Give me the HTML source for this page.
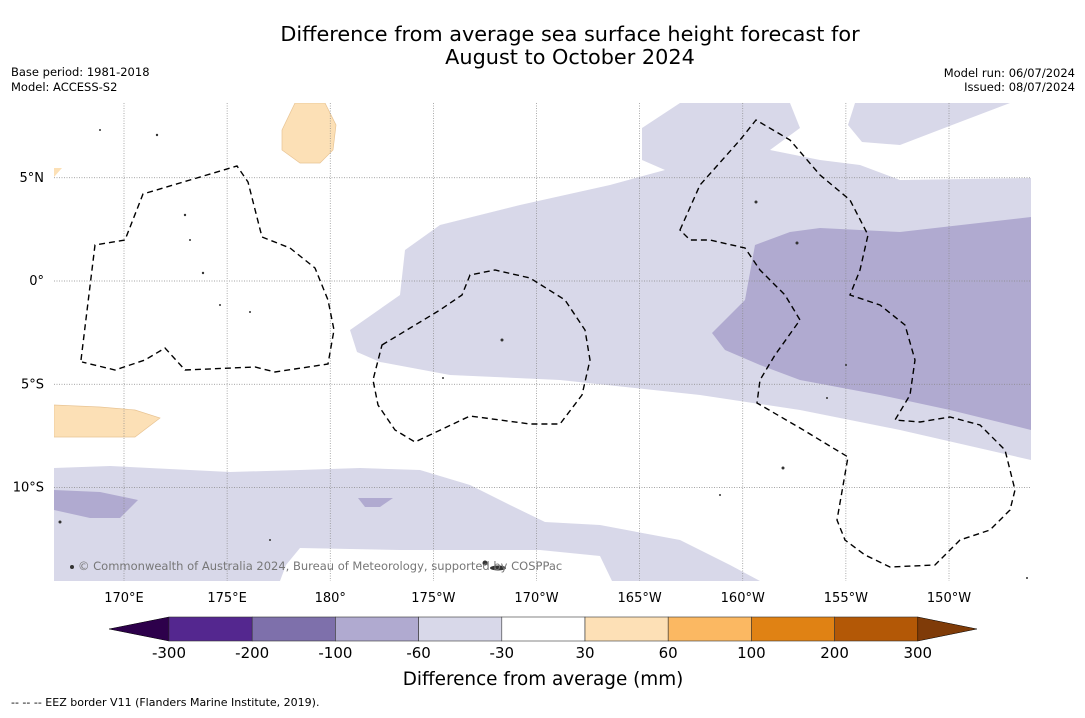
<!DOCTYPE html>
<html><head><meta charset="utf-8">
<style>
body{margin:0;background:#fff;width:1085px;height:713px;overflow:hidden;font-family:"Liberation Sans","DejaVu Sans",sans-serif;}
svg text{font-family:"DejaVu Sans","Liberation Sans",sans-serif;}
</style></head>
<body>
<svg width="1085" height="713">
<text x="570" y="41" text-anchor="middle" font-size="20.8">Difference from average sea surface height forecast for</text>
<text x="570" y="64" text-anchor="middle" font-size="20.8">August to October 2024</text>
<text x="11" y="76" font-size="11.5">Base period: 1981-2018</text>
<text x="11" y="91" font-size="11.5">Model: ACCESS-S2</text>
<text x="1075" y="77" font-size="11.5" text-anchor="end">Model run: 06/07/2024</text>
<text x="1075" y="91" font-size="11.5" text-anchor="end">Issued: 08/07/2024</text>

<g>
<clipPath id="mc"><rect x="54" y="103" width="977" height="478"/></clipPath>
<g clip-path="url(#mc)">
<path fill="#d8d8e9" d="M350,330 L400,295 L405,250 L440,225 L520,205 L610,185 L665,170 L642,160 L642,128 L680,103 L790,103 L800,128 L770,150 L820,160 L860,165 L900,180 L1031,178 L1031,460 L900,430 L800,410 L700,395 L560,380 L450,375 L380,362 L357,352 Z"/>
<path fill="#d8d8e9" d="M855,103 L1010,103 L960,122 L900,145 L862,142 L848,125 Z"/>
<path fill="#d8d8e9" d="M54,468 L110,466 L230,472 L300,470 L360,468 L420,470 L470,485 L510,505 L545,522 L600,525 L680,540 L730,565 L760,581 L612,581 L600,556 L540,550 L400,550 L300,548 L286,565 L280,581 L54,581 Z"/>
<path fill="#b0aad0" d="M712,333 L745,300 L755,245 L790,232 L820,228 L900,232 L1031,217 L1031,430 L950,410 L880,395 L800,380 L760,365 L725,350 Z"/>
<path fill="#b0aad0" d="M54,490 L100,492 L138,500 L120,518 L90,518 L54,510 Z"/>
<path fill="#b0aad0" d="M358,498 L393,498 L380,507 L365,507 Z"/>
<path fill="#fce0b6" stroke="#e8c494" stroke-width="0.7" d="M282,130 L295,103 L325,103 L336,125 L333,150 L320,163 L300,163 L282,150 Z"/>
<path fill="#fce0b6" stroke="#e8c494" stroke-width="0.7" d="M54,405 L100,407 L135,410 L160,418 L135,437 L100,437 L54,437 Z"/>
<path fill="#fce0b6" d="M54,168 L62,168 L54,177 Z"/>
<g id="grid" stroke="#888" stroke-width="0.7" stroke-dasharray="1,1.5"></g>
<g fill="none" stroke="#000" stroke-width="1.4" stroke-dasharray="6,4">
<path d="M81,360 L95,245 L125,240 L143,194 L237,166 L248,182 L262,237 L290,248 L315,268 L328,300 L334,330 L328,364 L275,372 L255,367 L185,370 L165,348 L145,360 L115,370 L82,362"/>
<path d="M382,345 L440,310 L462,295 L470,275 L495,270 L530,278 L565,300 L585,330 L590,360 L582,395 L560,424 L530,424 L470,416 L415,442 L395,430 L378,405 L373,380 Z"/>
<path d="M680,230 L700,185 L740,140 L756,120 L790,140 L820,175 L850,200 L868,235 L860,270 L850,295 L880,305 L905,325 L915,360 L910,395 L895,420 L920,422 L950,417 L980,425 L1005,450 L1015,490 L1010,510 L990,530 L960,540 L935,565 L890,567 L865,555 L845,540 L837,520 L848,457 L800,428 L757,403 L760,380 L775,355 L800,320 L785,295 L760,270 L745,248 L710,240 L690,240 Z"/>
</g>
<g fill="#333">
<circle cx="100" cy="130" r="1"/><circle cx="157" cy="135" r="1.2"/><circle cx="185" cy="215" r="1.2"/><circle cx="190" cy="240" r="1"/><circle cx="203" cy="273" r="1.2"/><circle cx="220" cy="305" r="1"/><circle cx="250" cy="312" r="1"/><circle cx="502" cy="340" r="1.5"/><circle cx="756" cy="202" r="1.5"/><circle cx="797" cy="243" r="1.5"/><circle cx="783" cy="468" r="1.5"/><circle cx="720" cy="495" r="1"/><circle cx="60" cy="522" r="1.5"/><circle cx="72" cy="567" r="2"/><ellipse cx="498" cy="568" rx="8" ry="2.5"/><circle cx="485" cy="563" r="2.5"/><circle cx="270" cy="540" r="1"/><circle cx="846" cy="365" r="1"/><circle cx="827" cy="398" r="1"/><circle cx="443" cy="378" r="1"/><circle cx="1027" cy="578" r="1"/>
</g>
</g>
<text x="78" y="570" font-size="11.5" fill="#777">© Commonwealth of Australia 2024, Bureau of Meteorology, supported by COSPPac</text>
<g id="xticks" font-size="13" text-anchor="middle"></g>
<g id="yticks" font-size="13" text-anchor="end"></g>
</g>

<g id="cbar"></g>
<text x="543" y="685" text-anchor="middle" font-size="18.4">Difference from average (mm)</text>
<text x="11" y="706" font-size="11">--  --  -- EEZ border V11 (Flanders Marine Institute, 2019).</text>
</svg>
<script>
const lonLabels=["170°E","175°E","180°","175°W","170°W","165°W","160°W","155°W","150°W"];
const lonValues=[170,175,180,185,190,195,200,205,210];
const latLabels=["5°N","0°","5°S","10°S"];
const latValues=[5,0,-5,-10];
const levels=["-300","-200","-100","-60","-30","30","60","100","200","300"];
const levelColors=["#54278f","#7e70ab","#b0aad0","#d8d8e9","#ffffff","#fde0b6","#fbb862","#e08214","#b35806"];
const ns="http://www.w3.org/2000/svg";
const xOf=lon=>124+(lon-170)*20.625;
const yOf=lat=>281-lat*20.65;
function mk(tag,attrs,parent){const e=document.createElementNS(ns,tag);for(const k in attrs)e.setAttribute(k,attrs[k]);parent.appendChild(e);return e;}
const grid=document.getElementById('grid');
lonValues.forEach((v,i)=>{const l=mk('line',{x1:xOf(v),x2:xOf(v),y1:103,y2:581},grid);


const t=mk('text',{x:xOf(v),y:602},document.getElementById('xticks'));t.textContent=lonLabels[i];

});
latValues.forEach((v,i)=>{const l=mk('line',{x1:54,x2:1031,y1:yOf(v),y2:yOf(v)},grid);


const t=mk('text',{x:44,y:yOf(v)+4},document.getElementById('yticks'));t.textContent=latLabels[i];

});
const cb=document.getElementById('cbar');
const x0=169,w=83.2,y0=617,h=24;
const lt=mk('polygon',{points:`109,${y0+h/2} ${x0},${y0} ${x0},${y0+h}`,fill:"#2d004b",stroke:"#000","stroke-width":0.5},cb);


levelColors.forEach((c,i)=>{const r=mk('rect',{x:x0+i*w,y:y0,width:w,height:h,fill:c,stroke:"#333","stroke-width":0.6},cb);

});
const xe=x0+levelColors.length*w;
const rt=mk('polygon',{points:`${xe},${y0} ${xe},${y0+h} 977,${y0+h/2}`,fill:"#7f3b08",stroke:"#000","stroke-width":0.5},cb);


levels.forEach((s,i)=>{const t=mk('text',{x:x0+i*w,y:658,"text-anchor":"middle","font-size":15},cb);t.textContent=s;

});
</script>
</body></html>
